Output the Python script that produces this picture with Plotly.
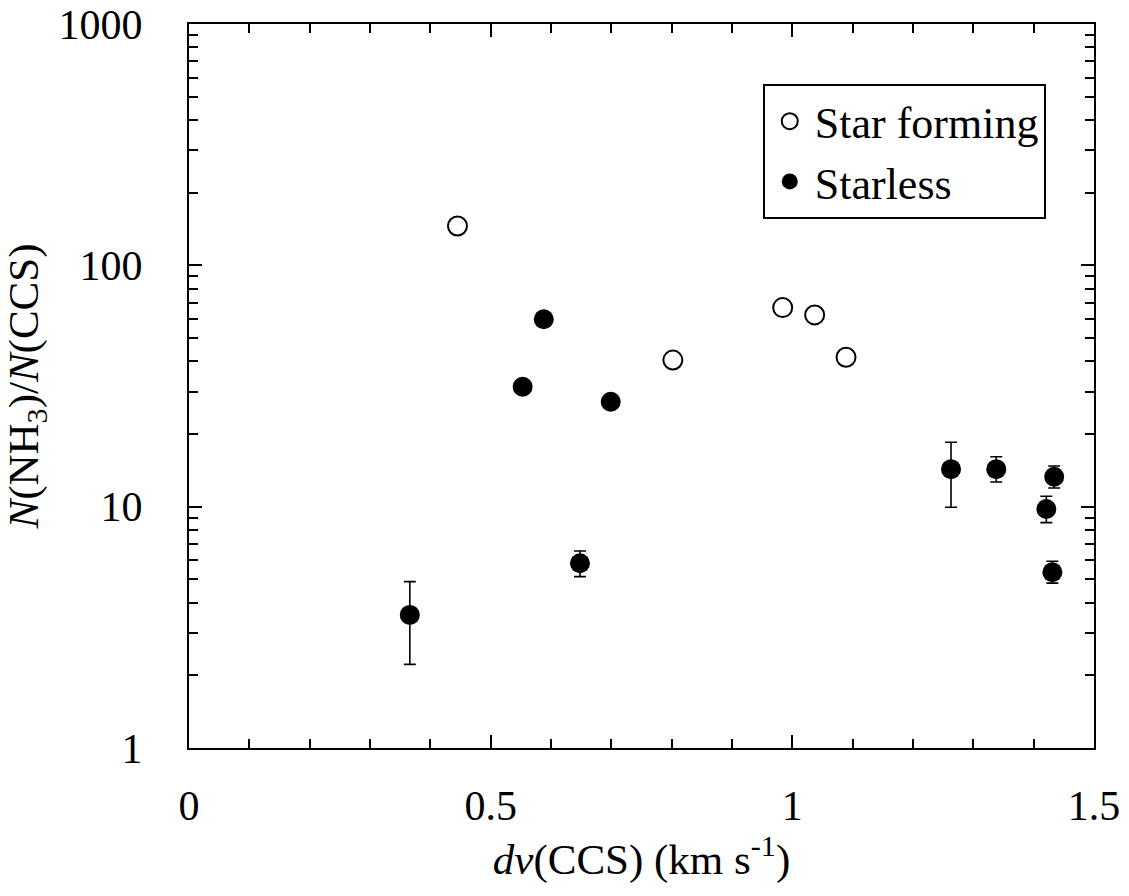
import plotly.graph_objects as go

# Star forming cores (open circles)
sf_dv = [0.445, 0.802, 0.984, 1.037, 1.089]
sf_ratio = [145.6, 40.5, 66.8, 62.3, 41.6]

# Starless cores (filled circles); None = no error bar drawn
sl_dv = [0.366, 0.648, 0.588, 0.553, 0.699, 1.263, 1.338, 1.434, 1.421, 1.431]
sl_ratio = [3.56, 5.83, 59.8, 31.4, 27.2, 14.3, 14.3, 13.3, 9.78, 5.35]
sl_upper = [4.89, 6.55, None, None, None, 18.5, 16.1, 14.75, 11.04, 5.94]
sl_lower = [2.22, 5.13, None, None, None, 9.94, 12.66, 11.95, 8.59, 4.82]

x_ticks = [0, 0.5, 1, 1.5]
x_ticktext = ["0", "0.5", "1", "1.5"]
y_ticks = [1, 10, 100, 1000]
y_ticktext = ["1", "10", "100", "1000"]

FONT = "Liberation Serif, Times New Roman, Times, serif"

fig = go.Figure()

eb_x, eb_y, eb_p, eb_m = [], [], [], []
ne_x, ne_y = [], []
for x, y, u, l in zip(sl_dv, sl_ratio, sl_upper, sl_lower):
    if u is None:
        ne_x.append(x); ne_y.append(y)
    else:
        eb_x.append(x); eb_y.append(y)
        eb_p.append(u - y); eb_m.append(y - l)

fig.add_trace(go.Scatter(
    x=sf_dv, y=sf_ratio, mode="markers", name="Star forming",
    marker=dict(symbol="circle", size=19, color="white",
                line=dict(color="black", width=2)),
))
fig.add_trace(go.Scatter(
    x=ne_x, y=ne_y, mode="markers", name="Starless",
    marker=dict(symbol="circle", size=20, color="black",
                line=dict(color="black", width=0)),
))
fig.add_trace(go.Scatter(
    x=eb_x, y=eb_y, mode="markers", name="Starless", showlegend=False,
    marker=dict(symbol="circle", size=20, color="black",
                line=dict(color="black", width=0)),
    error_y=dict(type="data", symmetric=False, array=eb_p, arrayminus=eb_m,
                 color="black", thickness=1.6, width=6),
))

axis_common = dict(
    showline=True, linecolor="black", linewidth=2, mirror="allticks",
    ticks="inside", tickcolor="black", tickwidth=1.6, ticklen=13,
    showgrid=False, zeroline=False, automargin=False,
    tickfont=dict(family=FONT, size=42, color="black"),
)

fig.update_xaxes(
    range=[0, 1.5], tickvals=x_ticks, ticktext=x_ticktext,
    minor=dict(ticks="inside", ticklen=9, dtick=0.1, tickcolor="black",
               tickwidth=1.6, showgrid=False),
    title=dict(text="<i>dv</i>(CCS) (km s<sup>-1</sup>)",
               font=dict(family=FONT, size=43, color="black"), standoff=14),
    ticklabelstandoff=20,
    **axis_common,
)
fig.update_yaxes(
    type="log", range=[0, 3], tickvals=y_ticks, ticktext=y_ticktext,
    minor=dict(ticks="inside", ticklen=9, dtick="D1", tickcolor="black",
               tickwidth=1.6, showgrid=False),
    title=dict(text="<i>N</i>(NH<sub>3</sub>)/<i>N</i>(CCS)",
               font=dict(family=FONT, size=43, color="black"), standoff=10),
    ticklabelstandoff=36,
    **axis_common,
)

fig.update_layout(
    width=1129, height=896,
    margin=dict(l=189, r=35, t=24, b=148),
    paper_bgcolor="white", plot_bgcolor="white",
    font=dict(family=FONT, color="black"),
    legend=dict(
        x=0.634, y=0.917, xanchor="left", yanchor="top",
        bordercolor="black", borderwidth=2, bgcolor="white",
        font=dict(family=FONT, size=44, color="black"),
        itemsizing="trace", itemwidth=40, tracegroupgap=0,
    ),
    showlegend=True,
)

fig.write_html("out.html")
